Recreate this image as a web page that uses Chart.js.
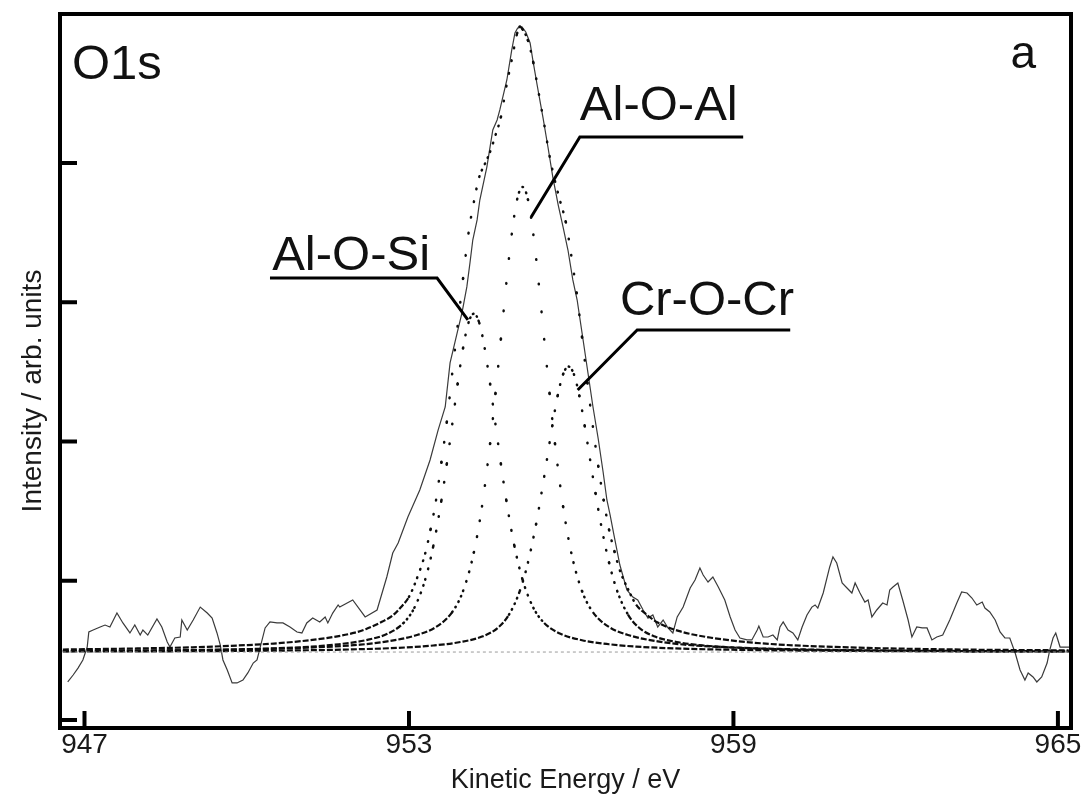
<!DOCTYPE html>
<html>
<head>
<meta charset="utf-8">
<script src="https://cdn.jsdelivr.net/npm/chart.js@4/dist/chart.umd.min.js"></script>
<style>
html,body{margin:0;padding:0;background:#fff;}
#wrap{width:1087px;height:798px;}
</style>
</head>
<body>
<div id="wrap"><canvas id="c" width="1087" height="798"></canvas></div>
<script>
// ---- tick values ----
const xTicks = [947, 953, 959, 965];
const yTicks = [0, 1, 2, 3, 4];

// ---- measured O1s spectrum (solid line) ----
const measuredE = [946.69,946.79,946.88,946.97,947.05,947.08,947.16,947.29,947.38,947.47,
947.60,947.71,947.84,947.93,948.03,948.08,948.17,948.34,948.43,948.53,
948.58,948.67,948.77,948.80,948.90,949.01,949.14,949.27,949.36,949.45,
949.51,949.56,949.64,949.73,949.82,949.93,950.02,950.12,950.19,950.25,
950.34,950.43,950.56,950.67,950.80,950.93,951.02,951.11,951.22,951.35,
951.45,951.50,951.59,951.69,951.72,951.96,952.19,952.41,952.59,952.70,
952.80,952.98,953.20,953.39,953.54,953.67,953.76,953.89,953.98,954.07,
954.13,954.18,954.26,954.31,954.44,954.55,954.63,954.68,954.81,954.90,
954.96,955.01,955.09,955.16,955.24,955.29,955.37,955.42,955.48,955.57,
955.66,955.76,955.85,955.94,956.03,956.11,956.22,956.31,956.40,956.50,
956.59,956.66,956.72,956.79,956.90,957.03,957.14,957.23,957.33,957.42,
957.51,957.60,957.70,957.79,957.88,957.96,958.07,958.20,958.29,958.38,
958.44,958.53,958.62,958.72,958.84,958.94,959.03,959.12,959.25,959.34,
959.44,959.47,959.55,959.64,959.73,959.81,959.86,959.92,960.01,960.10,
960.19,960.27,960.36,960.45,960.51,960.56,960.66,960.78,960.84,960.91,
961.01,961.10,961.19,961.25,961.34,961.43,961.49,961.56,961.65,961.76,
961.84,961.89,961.95,962.04,962.13,962.23,962.30,962.39,962.49,962.58,
962.67,962.76,962.87,963.00,963.13,963.22,963.32,963.41,963.50,963.60,
963.65,963.74,963.84,963.93,964.02,964.11,964.21,964.30,964.39,964.45,
964.54,964.61,964.70,964.80,964.85,964.91,964.96,965.04,965.22];
const measuredI = [0.273,0.323,0.373,0.431,0.524,0.632,0.646,0.668,0.682,0.668,
0.768,0.697,0.625,0.682,0.610,0.646,0.610,0.725,0.668,0.560,
0.524,0.589,0.596,0.718,0.646,0.718,0.811,0.768,0.732,0.625,
0.539,0.431,0.359,0.266,0.266,0.287,0.338,0.409,0.431,0.524,
0.661,0.704,0.697,0.697,0.668,0.632,0.625,0.697,0.732,0.704,
0.740,0.697,0.768,0.826,0.811,0.862,0.740,0.790,1.027,1.199,
1.271,1.458,1.652,1.867,2.083,2.248,2.564,2.779,2.923,3.110,
3.289,3.447,3.591,3.734,3.971,4.237,4.309,4.381,4.596,4.811,
4.934,4.969,4.977,4.941,4.862,4.740,4.560,4.452,4.323,4.115,
3.899,3.698,3.540,3.375,3.160,3.016,2.729,2.492,2.255,2.018,
1.781,1.580,1.472,1.329,1.113,0.934,0.883,0.862,0.790,0.732,
0.754,0.668,0.718,0.661,0.625,0.740,0.811,0.948,1.005,1.092,
1.041,0.991,1.027,0.955,0.862,0.740,0.646,0.589,0.575,0.575,
0.646,0.675,0.596,0.596,0.610,0.575,0.668,0.704,0.646,0.625,
0.575,0.668,0.754,0.811,0.826,0.804,0.912,1.099,1.171,1.127,
0.984,0.948,0.912,0.984,0.912,0.847,0.862,0.740,0.790,0.840,
0.826,0.934,0.955,0.984,0.862,0.718,0.596,0.668,0.661,0.661,
0.575,0.596,0.610,0.718,0.840,0.919,0.912,0.876,0.826,0.847,
0.804,0.776,0.718,0.632,0.589,0.589,0.481,0.359,0.287,0.338,
0.309,0.273,0.309,0.409,0.503,0.589,0.625,0.524,0.524];

// ---- fitted envelope (dotted) ----
const fitE = [946.6,948,949,950,950.5,951,951.5,952,952.2,952.5,
952.7,952.85,953.0,953.15,953.3,953.4,953.5,953.6,953.7,953.8,
953.9,954.0,954.1,954.2,954.3,954.4,954.5,954.6,954.7,954.8,
954.9,955.0,955.05,955.1,955.2,955.3,955.4,955.5,955.6,955.7,
955.8,955.9,956.0,956.1,956.2,956.3,956.4,956.5,956.6,956.7,
956.8,956.9,957.05,957.2,957.4,957.6,958.0,958.6,959.5,961,
963,965.2];
const fitI = [0.506,0.514,0.522,0.538,0.549,0.566,0.590,0.627,0.652,0.705,
0.751,0.81,0.884,1.02,1.196,1.37,1.577,1.85,2.14,2.49,
2.832,3.17,3.494,3.72,3.90,3.99,4.08,4.20,4.33,4.55,
4.74,4.93,4.98,4.96,4.88,4.72,4.50,4.28,4.05,3.87,
3.72,3.576,3.34,3.068,2.75,2.42,2.11,1.823,1.58,1.366,
1.21,1.074,0.94,0.829,0.755,0.70,0.638,0.59,0.551,0.523,
0.507,0.50];

// ---- component Al-O-Si ----
const alOSiE = [946.6,949.2,950.2,951.2,951.7,952.2,952.6,952.9,953.1,953.3,
953.45,953.6,953.7,953.8,953.9,954.0,954.1,954.2,954.3,954.4,
954.5,954.6,954.7,954.8,954.95,955.1,955.3,955.5,955.8,956.2,
956.7,957.2,958.2,959.2,961.2,965.2];
const alOSiI = [0.495,0.503,0.511,0.527,0.544,0.573,0.619,0.697,0.806,1.008,
1.249,1.577,1.839,2.123,2.413,2.670,2.852,2.918,2.852,2.670,
2.413,2.123,1.839,1.577,1.249,1.008,0.806,0.697,0.619,0.573,
0.544,0.527,0.511,0.503,0.496,0.492];

// ---- component Al-O-Al ----
const alOAlE = [946.6,948.1,950.1,951.1,952.1,952.6,953.1,953.5,953.8,954.0,
954.2,954.35,954.5,954.6,954.7,954.8,954.9,955.0,955.1,955.2,
955.3,955.4,955.5,955.6,955.7,955.85,956.0,956.2,956.4,956.7,
957.1,957.6,958.1,959.1,960.1,962.1,965.1];
const alOAlI = [0.495,0.498,0.508,0.519,0.541,0.565,0.605,0.668,0.775,0.926,
1.203,1.533,1.984,2.345,2.736,3.133,3.487,3.738,3.828,3.738,
3.487,3.133,2.736,2.345,1.984,1.533,1.203,0.926,0.775,0.668,
0.605,0.565,0.541,0.519,0.508,0.498,0.493];

// ---- component Cr-O-Cr ----
const crOCrE = [946.6,948.95,950.95,951.95,952.95,953.45,953.95,954.35,954.65,954.85,
955.05,955.2,955.35,955.45,955.55,955.65,955.75,955.85,955.95,956.05,
956.15,956.25,956.35,956.45,956.55,956.7,956.85,957.05,957.25,957.55,
957.95,958.45,958.95,959.95,960.95,962.95,965.2];
const crOCrI = [0.492,0.494,0.500,0.507,0.521,0.535,0.560,0.599,0.664,0.757,
0.927,1.130,1.406,1.628,1.868,2.112,2.329,2.483,2.538,2.483,
2.329,2.112,1.868,1.628,1.406,1.130,0.927,0.757,0.664,0.599,
0.560,0.535,0.521,0.507,0.500,0.494,0.492];

// ---- background line ----
const baselineE = [946.6, 965.2];
const baselineI = [0.488, 0.488];

// ---- text ----
const panelName = 'O1s';
const panelLetter = 'a';
const xTitle = 'Kinetic Energy / eV';
const yTitle = 'Intensity / arb. units';
const peakNames = ['Al-O-Si', 'Al-O-Al', 'Cr-O-Cr'];

// ---- annotation anchors (data units) ----
const callouts = [
  {name: peakNames[0], tip: [954.09, 2.873], elbow: [953.52, 3.174], lineEnd: 950.43, text: [950.47, 3.232]},
  {name: peakNames[1], tip: [955.26, 3.612], elbow: [956.16, 4.187], lineEnd: 959.18, text: [956.16, 4.309]},
  {name: peakNames[2], tip: [956.12, 2.370], elbow: [957.22, 2.801], lineEnd: 960.05, text: [956.90, 2.908]}
];

const FONT = '"Liberation Sans", Arial, Helvetica, sans-serif';
Chart.defaults.font.family = FONT;

function pts(e, i) { return e.map((x, k) => ({x: x, y: i[k]})); }

function spacing(ctx) {
  const dx = Math.abs(ctx.p1.x - ctx.p0.x);
  const dy = Math.abs(ctx.p1.y - ctx.p0.y);
  const s = dy / Math.max(dx, 0.001);
  return Math.round(2.7 * Math.sqrt(1 + s * s));
}
const dottedSegment = {
  borderDash: ctx => { const sp = spacing(ctx); return sp < 5 ? [6, 2] : [0.6, sp - 0.6]; },
  borderCapStyle: ctx => spacing(ctx) < 5 ? 'butt' : 'round',
  borderWidth: ctx => spacing(ctx) < 5 ? 2.2 : 2.5
};
function dottedSet(label, e, i) {
  return {
    label: label, data: pts(e, i), borderColor: '#0d0d0d', borderWidth: 2.4,
    pointRadius: 0, cubicInterpolationMode: 'monotone', segment: dottedSegment, fill: false
  };
}

const framePlugin = {
  id: 'frame',
  afterDraw(chart) {
    const c = chart.ctx, a = chart.chartArea;
    const xs = chart.scales.x, ys = chart.scales.y;
    c.save();
    c.strokeStyle = '#000';
    c.lineCap = 'butt';
    // inward tick marks
    c.lineWidth = 4;
    xs.ticks.forEach(t => {
      const px = xs.getPixelForValue(t.value);
      c.beginPath(); c.moveTo(px, a.bottom); c.lineTo(px, a.bottom - 17); c.stroke();
    });
    ys.ticks.forEach(t => {
      const py = ys.getPixelForValue(t.value);
      c.beginPath(); c.moveTo(a.left, py); c.lineTo(a.left + 17, py); c.stroke();
    });
    // frame
    c.lineWidth = 4;
    c.strokeRect(a.left, a.top, a.right - a.left, a.bottom - a.top);
    // callouts
    c.fillStyle = '#111';
    c.lineWidth = 3;
    c.font = '49px ' + FONT;
    c.textBaseline = 'alphabetic';
    c.textAlign = 'left';
    callouts.forEach(o => {
      const tx = xs.getPixelForValue(o.tip[0]), ty = ys.getPixelForValue(o.tip[1]);
      const ex = xs.getPixelForValue(o.elbow[0]), ey = ys.getPixelForValue(o.elbow[1]);
      const lx = xs.getPixelForValue(o.lineEnd);
      c.beginPath(); c.moveTo(tx, ty); c.lineTo(ex, ey); c.lineTo(lx, ey); c.stroke();
      c.fillText(o.name, xs.getPixelForValue(o.text[0]), ys.getPixelForValue(o.text[1]));
    });
    // panel labels
    c.font = '49px ' + FONT;
    c.fillText(panelName, a.left + 12, a.top + 65);
    c.font = '46px ' + FONT;
    c.textAlign = 'right';
    c.fillText(panelLetter, a.right - 35, a.top + 54);
    // y-axis title
    c.save();
    c.translate(a.left - 27, (a.top + a.bottom) / 2 + 20);
    c.rotate(-Math.PI / 2);
    c.font = '28px ' + FONT;
    c.fillStyle = '#1a1a1a';
    c.textAlign = 'center';
    c.textBaseline = 'middle';
    c.fillText(yTitle, 0, 0);
    c.restore();
    c.restore();
  }
};

new Chart(document.getElementById('c'), {
  type: 'line',
  data: {
    datasets: [
      {label: 'Background', data: pts(baselineE, baselineI), borderColor: '#9a9a9a', borderWidth: 1, borderDash: [3, 3], pointRadius: 0},
      dottedSet(peakNames[0], alOSiE, alOSiI),
      dottedSet(peakNames[1], alOAlE, alOAlI),
      dottedSet(peakNames[2], crOCrE, crOCrI),
      dottedSet('Fit', fitE, fitI),
      {label: 'O1s', data: pts(measuredE, measuredI), borderColor: '#3a3a3a', borderWidth: 1.2, pointRadius: 0, tension: 0}
    ]
  },
  options: {
    responsive: false,
    animation: false,
    devicePixelRatio: 1,
    layout: {padding: {top: 14, right: 16, left: 0, bottom: 0}},
    plugins: {legend: {display: false}, tooltip: {enabled: false}},
    scales: {
      x: {
        type: 'linear', min: 946.547, max: 965.242,
        afterBuildTicks: s => { s.ticks = xTicks.map(v => ({value: v})); },
        afterFit: s => { s.height = 70; },
        grid: {display: false, drawTicks: false},
        border: {display: false},
        ticks: {font: {size: 28}, color: '#1a1a1a', padding: 0, maxRotation: 0, autoSkip: false},
        title: {display: true, text: xTitle, font: {size: 27}, color: '#1a1a1a', padding: {top: 0, bottom: 1}}
      },
      y: {
        type: 'linear', min: -0.0575, max: 5.07,
        afterBuildTicks: s => { s.ticks = yTicks.map(v => ({value: v})); },
        afterFit: s => { s.width = 60; },
        grid: {display: false, drawTicks: false},
        border: {display: false},
        ticks: {display: false},
        title: {display: false}
      }
    }
  },
  plugins: [framePlugin]
});
</script>
</body>
</html>
